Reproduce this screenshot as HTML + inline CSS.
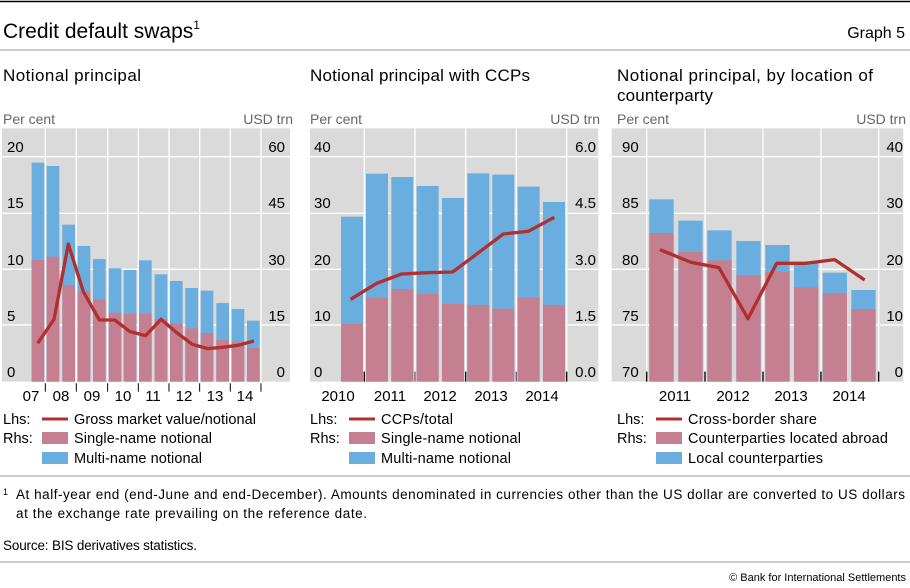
<!DOCTYPE html>
<html><head><meta charset="utf-8"><style>
body{margin:0;background:#fff;}
svg{display:block;font-family:"Liberation Sans",sans-serif;}
</style></head><body>
<svg width="910" height="588" viewBox="0 0 910 588" xmlns="http://www.w3.org/2000/svg">
<line x1="0" y1="1.5" x2="910" y2="1.5" stroke="#000" stroke-width="1.5"/>
<text x="3" y="38" font-size="21" fill="#000">Credit default swaps<tspan font-size="12" dy="-9">1</tspan></text>
<text x="905" y="38" font-size="16" text-anchor="end">Graph 5</text>
<line x1="0" y1="50" x2="910" y2="50" stroke="#999" stroke-width="1"/>
<g font-size="17">
<text x="3" y="81" textLength="138">Notional principal</text>
<text x="310" y="81" textLength="220">Notional principal with CCPs</text>
<text x="617" y="81" textLength="256">Notional principal, by location of</text>
<text x="617" y="101" textLength="96">counterparty</text>
</g>
<g font-size="14" fill="#666">
<text x="3" y="124" textLength="52">Per cent</text><text x="293" y="124" text-anchor="end">USD trn</text>
<text x="310" y="124" textLength="52">Per cent</text><text x="600" y="124" text-anchor="end">USD trn</text>
<text x="617" y="124" textLength="52">Per cent</text><text x="906" y="124" text-anchor="end">USD trn</text>
</g>

<!-- Panel 1 -->
<g transform="translate(0,110) scale(0.3333)">
<rect x="6" y="55" width="864" height="760" fill="#dadada"/>
<g stroke="#fff" stroke-width="4">
<line x1="6" y1="140" x2="870" y2="140"/><line x1="6" y1="310" x2="870" y2="310"/><line x1="6" y1="478" x2="870" y2="478"/><line x1="6" y1="645" x2="870" y2="645"/>
<line x1="136" y1="55" x2="136" y2="815"/><line x1="229" y1="55" x2="229" y2="815"/><line x1="323" y1="55" x2="323" y2="815"/><line x1="415" y1="55" x2="415" y2="815"/><line x1="507" y1="55" x2="507" y2="815"/><line x1="599" y1="55" x2="599" y2="815"/><line x1="691" y1="55" x2="691" y2="815"/><line x1="783" y1="55" x2="783" y2="815"/>
</g>
<g fill="#6aaee0">
<rect x="95" y="158" width="38" height="657"/><rect x="140" y="168" width="38" height="647"/><rect x="187" y="344" width="38" height="471"/><rect x="233" y="408" width="38" height="407"/><rect x="279" y="447" width="38" height="368"/><rect x="326" y="475" width="38" height="340"/><rect x="371" y="480" width="38" height="335"/><rect x="417" y="451" width="38" height="364"/><rect x="464" y="493" width="38" height="322"/><rect x="510" y="513" width="38" height="302"/><rect x="556" y="534" width="38" height="281"/><rect x="602" y="542" width="38" height="273"/><rect x="649" y="579" width="38" height="236"/><rect x="695" y="597" width="38" height="218"/><rect x="741" y="632" width="38" height="183"/>
</g>
<g fill="#c48090">
<rect x="95" y="450" width="38" height="365"/><rect x="140" y="440" width="38" height="375"/><rect x="187" y="526" width="38" height="289"/><rect x="233" y="544" width="38" height="271"/><rect x="279" y="569" width="38" height="246"/><rect x="326" y="608" width="38" height="207"/><rect x="371" y="612" width="38" height="203"/><rect x="417" y="612" width="38" height="203"/><rect x="464" y="627" width="38" height="188"/><rect x="510" y="641" width="38" height="174"/><rect x="556" y="655" width="38" height="160"/><rect x="602" y="669" width="38" height="146"/><rect x="649" y="690" width="38" height="125"/><rect x="695" y="695" width="38" height="120"/><rect x="741" y="714" width="38" height="101"/>
</g>
<polyline fill="none" stroke="#b03030" stroke-width="10" stroke-linejoin="round" points="113,700 162,628 205,402 250,545 298,630 344,630 390,665 437,677 483,628 530,668 577,703 623,716 668,712 714,706 762,693"/>
<g stroke="#000" stroke-width="3"><line x1="136" y1="820" x2="136" y2="845"/><line x1="229" y1="820" x2="229" y2="845"/><line x1="323" y1="820" x2="323" y2="845"/><line x1="415" y1="820" x2="415" y2="845"/><line x1="507" y1="820" x2="507" y2="845"/><line x1="599" y1="820" x2="599" y2="845"/><line x1="691" y1="820" x2="691" y2="845"/><line x1="783" y1="820" x2="783" y2="845"/></g>
</g>
<g font-size="15" fill="#000">
<text x="7" y="152">20</text><text x="7" y="208">15</text><text x="7" y="265">10</text><text x="7" y="321">5</text><text x="7" y="377">0</text>
<text x="285" y="152" text-anchor="end">60</text><text x="285" y="208" text-anchor="end">45</text><text x="285" y="265" text-anchor="end">30</text><text x="285" y="321" text-anchor="end">15</text><text x="285" y="377" text-anchor="end">0</text>
<g text-anchor="middle"><text x="31" y="401">07</text><text x="61" y="401">08</text><text x="92" y="401">09</text><text x="123" y="401">10</text><text x="153" y="401">11</text><text x="184" y="401">12</text><text x="215" y="401">13</text><text x="245" y="401">14</text></g>
</g>

<!-- Panel 2 -->
<g transform="translate(305,110) scale(0.3333)">
<rect x="15" y="55" width="865" height="760" fill="#dadada"/>
<g stroke="#fff" stroke-width="4">
<line x1="15" y1="140" x2="880" y2="140"/><line x1="15" y1="310" x2="880" y2="310"/><line x1="15" y1="478" x2="880" y2="478"/><line x1="15" y1="645" x2="880" y2="645"/>
<line x1="178" y1="55" x2="178" y2="815"/><line x1="330" y1="55" x2="330" y2="815"/><line x1="482" y1="55" x2="482" y2="815"/><line x1="634" y1="55" x2="634" y2="815"/><line x1="785" y1="55" x2="785" y2="815"/>
</g>
<g fill="#6aaee0">
<rect x="108" y="320" width="66" height="495"/><rect x="183" y="191" width="66" height="624"/><rect x="259" y="201" width="66" height="614"/><rect x="335" y="228" width="66" height="587"/><rect x="411" y="264" width="66" height="551"/><rect x="487" y="190" width="66" height="625"/><rect x="562" y="194" width="66" height="621"/><rect x="638" y="230" width="66" height="585"/><rect x="714" y="276" width="66" height="539"/>
</g>
<g fill="#c48090">
<rect x="108" y="642" width="66" height="173"/><rect x="183" y="563" width="66" height="252"/><rect x="259" y="537" width="66" height="278"/><rect x="335" y="551" width="66" height="264"/><rect x="411" y="582" width="66" height="233"/><rect x="487" y="585" width="66" height="230"/><rect x="562" y="596" width="66" height="219"/><rect x="638" y="562" width="66" height="253"/><rect x="714" y="585" width="66" height="230"/>
</g>
<polyline fill="none" stroke="#b03030" stroke-width="10" stroke-linejoin="round" points="137,568 215,520 290,492 365,488 443,486 518,430 595,372 670,364 748,322"/>
<g stroke="#000" stroke-width="4"><line x1="178" y1="785" x2="178" y2="815"/><line x1="482" y1="785" x2="482" y2="815"/><line x1="785" y1="785" x2="785" y2="815"/></g>
<g stroke="#666" stroke-width="4"><line x1="330" y1="785" x2="330" y2="815"/><line x1="634" y1="785" x2="634" y2="815"/></g>
</g>
<g font-size="15" fill="#000">
<text x="314" y="152">40</text><text x="314" y="208">30</text><text x="314" y="265">20</text><text x="314" y="321">10</text><text x="314" y="377">0</text>
<text x="596" y="152" text-anchor="end">6.0</text><text x="596" y="208" text-anchor="end">4.5</text><text x="596" y="265" text-anchor="end">3.0</text><text x="596" y="321" text-anchor="end">1.5</text><text x="596" y="377" text-anchor="end">0.0</text>
<g text-anchor="middle"><text x="338" y="401">2010</text><text x="390" y="401">2011</text><text x="440" y="401">2012</text><text x="491" y="401">2013</text><text x="542" y="401">2014</text></g>
</g>

<!-- Panel 3 -->
<g transform="translate(610,110) scale(0.3333)">
<rect x="5" y="55" width="875" height="760" fill="#dadada"/>
<g stroke="#fff" stroke-width="4">
<line x1="5" y1="140" x2="880" y2="140"/><line x1="5" y1="310" x2="880" y2="310"/><line x1="5" y1="478" x2="880" y2="478"/><line x1="5" y1="645" x2="880" y2="645"/>
<line x1="110" y1="55" x2="110" y2="815"/><line x1="285" y1="55" x2="285" y2="815"/><line x1="459" y1="55" x2="459" y2="815"/><line x1="633" y1="55" x2="633" y2="815"/><line x1="806" y1="55" x2="806" y2="815"/>
</g>
<g fill="#6aaee0">
<rect x="118" y="268" width="73" height="547"/><rect x="205" y="332" width="73" height="483"/><rect x="292" y="361" width="73" height="454"/><rect x="379" y="393" width="73" height="422"/><rect x="466" y="405" width="73" height="410"/><rect x="552" y="455" width="73" height="360"/><rect x="638" y="488" width="73" height="327"/><rect x="724" y="540" width="73" height="275"/>
</g>
<g fill="#c48090">
<rect x="118" y="369" width="73" height="446"/><rect x="205" y="426" width="73" height="389"/><rect x="292" y="451" width="73" height="364"/><rect x="379" y="496" width="73" height="319"/><rect x="466" y="485" width="73" height="330"/><rect x="552" y="532" width="73" height="283"/><rect x="638" y="550" width="73" height="265"/><rect x="724" y="597" width="73" height="218"/>
</g>
<polyline fill="none" stroke="#b03030" stroke-width="10" stroke-linejoin="round" points="150,419 243,457 327,473 414,626 500,460 587,460 674,449 764,510"/>
<g stroke="#000" stroke-width="4"><line x1="110" y1="785" x2="110" y2="815"/><line x1="285" y1="785" x2="285" y2="815"/><line x1="459" y1="785" x2="459" y2="815"/><line x1="633" y1="785" x2="633" y2="815"/><line x1="806" y1="785" x2="806" y2="815"/></g>
</g>
<g font-size="15" fill="#000">
<text x="622" y="152">90</text><text x="622" y="208">85</text><text x="622" y="265">80</text><text x="622" y="321">75</text><text x="622" y="377">70</text>
<text x="903" y="152" text-anchor="end">40</text><text x="903" y="208" text-anchor="end">30</text><text x="903" y="265" text-anchor="end">20</text><text x="903" y="321" text-anchor="end">10</text><text x="903" y="377" text-anchor="end">0</text>
<g text-anchor="middle"><text x="675" y="401">2011</text><text x="733" y="401">2012</text><text x="791" y="401">2013</text><text x="849" y="401">2014</text></g>
</g>

<!-- Legends -->
<g font-size="14.5" fill="#000">
<text x="3" y="424">Lhs:</text><line x1="42" y1="419" x2="68" y2="419" stroke="#b03030" stroke-width="3"/><text x="74" y="424" textLength="182">Gross market value/notional</text>
<text x="3" y="443">Rhs:</text><rect x="42" y="432" width="26" height="12" fill="#c48090"/><text x="74" y="443" textLength="138">Single-name notional</text>
<rect x="42" y="452" width="26" height="12" fill="#6aaee0"/><text x="74" y="463" textLength="128">Multi-name notional</text>

<text x="310" y="424">Lhs:</text><line x1="349" y1="419" x2="375" y2="419" stroke="#b03030" stroke-width="3"/><text x="381" y="424" textLength="72">CCPs/total</text>
<text x="310" y="443">Rhs:</text><rect x="349" y="432" width="26" height="12" fill="#c48090"/><text x="381" y="443" textLength="140">Single-name notional</text>
<rect x="349" y="452" width="26" height="12" fill="#6aaee0"/><text x="381" y="463" textLength="130">Multi-name notional</text>

<text x="617" y="424">Lhs:</text><line x1="656" y1="419" x2="682" y2="419" stroke="#b03030" stroke-width="3"/><text x="688" y="424" textLength="129">Cross-border share</text>
<text x="617" y="443">Rhs:</text><rect x="656" y="432" width="26" height="12" fill="#c48090"/><text x="688" y="443" textLength="200">Counterparties located abroad</text>
<rect x="656" y="452" width="26" height="12" fill="#6aaee0"/><text x="688" y="463" textLength="135">Local counterparties</text>
</g>
<line x1="0" y1="476" x2="910" y2="476" stroke="#999" stroke-width="1"/>
<g font-size="13.5" fill="#000">
<text x="3" y="495" font-size="9">1</text>
<text x="16" y="499" textLength="889">At half-year end (end-June and end-December). Amounts denominated in currencies other than the US dollar are converted to US dollars</text>
<text x="16" y="518" textLength="351">at the exchange rate prevailing on the reference date.</text>
<text x="3" y="550" textLength="194">Source: BIS derivatives statistics.</text>
</g>
<line x1="0" y1="562" x2="910" y2="562" stroke="#999" stroke-width="1"/>
<text x="906" y="581" font-size="11" text-anchor="end">© Bank for International Settlements</text>
</svg>
</body></html>
